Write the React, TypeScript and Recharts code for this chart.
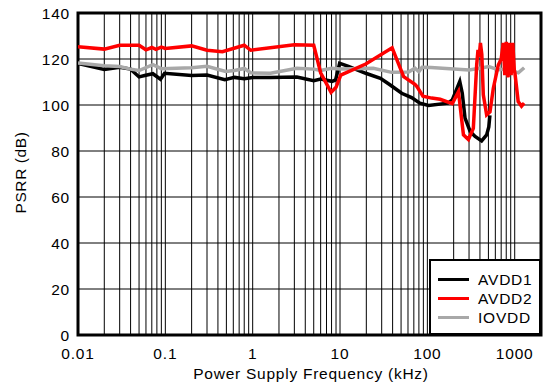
import React from "react";
import {
  LineChart,
  Line,
  XAxis,
  YAxis,
  CartesianGrid,
  ReferenceLine,
  ReferenceArea,
} from "recharts";

// AVDD1 (black)
const avdd1Freq = [0.01, 0.02, 0.03, 0.04, 0.05, 0.058, 0.072, 0.088, 0.098, 0.2, 0.3, 0.48, 0.62, 0.8, 1.0, 1.6, 3.2, 5.0, 6.0, 8.1, 8.9, 9.9, 12.5, 19.7, 29, 37.6, 50.8, 66, 82, 103, 172, 193, 235, 251, 270, 309, 352, 418, 477, 505, 520];
const avdd1Psrr = [118.1, 115.5, 116.4, 115.6, 112.2, 112.8, 113.6, 111.2, 113.8, 112.8, 113.0, 111.0, 112.0, 111.4, 112.0, 112.0, 112.2, 110.6, 111.3, 110.3, 110.9, 118.1, 116.8, 113.8, 111.6, 108.7, 105.1, 103.2, 100.8, 99.8, 100.8, 102.2, 110.2, 105.1, 94.3, 88.5, 86.3, 84.4, 87.0, 90.5, 95.5];

// AVDD2 (red)
const avdd2Freq = [0.01, 0.02, 0.03, 0.05, 0.06, 0.07, 0.078, 0.09, 0.1, 0.2, 0.3, 0.45, 0.8, 0.95, 3.0, 5.0, 6.0, 7.9, 9.0, 10.2, 19.7, 39.5, 53.5, 72, 76, 89, 112, 140, 193, 227, 259, 295, 336, 367, 380, 392, 405, 420, 437, 477, 521, 569, 649, 700, 740, 770, 800, 840, 870, 910, 950, 990, 1005, 1096, 1197, 1283];
const avdd2Psrr = [125.3, 124.3, 126.0, 126.0, 124.0, 125.0, 124.2, 125.2, 124.6, 125.7, 123.8, 123.2, 126.0, 123.8, 126.2, 126.0, 114.0, 105.5, 107.7, 113.0, 117.8, 124.9, 112.3, 109.0, 108.0, 103.8, 103.0, 102.5, 100.6, 105.8, 87.0, 85.0, 89.9, 117.4, 124.0, 121.0, 127.0, 122.0, 104.4, 95.7, 97.0, 107.3, 117.4, 120.0, 127.0, 113.0, 127.5, 112.0, 127.0, 113.0, 127.0, 115.0, 114.0, 101.5, 99.5, 100.8];

// IOVDD (gray)
const iovddFreq = [0.01, 0.02, 0.03, 0.04, 0.05, 0.072, 0.09, 0.2, 0.3, 0.49, 0.62, 0.8, 0.95, 1.6, 3.2, 5.0, 6.0, 8.0, 10, 24, 39, 61, 72, 80, 87, 110, 300, 400, 505, 650, 800, 1005, 1100, 1283];
const iovddPsrr = [118.3, 117.1, 116.7, 115.6, 115.0, 117.5, 115.8, 116.2, 116.8, 114.6, 115.0, 115.9, 114.0, 113.8, 116.0, 115.6, 115.0, 116.0, 115.7, 116.0, 114.2, 114.3, 116.0, 114.5, 116.4, 116.3, 115.2, 116.0, 116.7, 115.3, 115.6, 114.5, 114.0, 116.2];

const xTicks = [0.01, 0.1, 1, 10, 100, 1000];
const yTicks = [0, 20, 40, 60, 80, 100, 120, 140];
const decades = [0.01, 0.1, 1, 10, 100, 1000];
const multiples = [1, 2, 3, 4, 5, 6, 7, 8, 9];

const toPoints = (f: number[], v: number[]) => f.map((x, i) => ({ f: x, v: v[i] }));

const SERIES = [
  { name: "AVDD1", color: "#000000", data: toPoints(avdd1Freq, avdd1Psrr) },
  { name: "IOVDD", color: "#a8a8a8", data: toPoints(iovddFreq, iovddPsrr) },
  { name: "AVDD2", color: "#ff0000", data: toPoints(avdd2Freq, avdd2Psrr) },
];
const LEGEND_ORDER = ["AVDD1", "AVDD2", "IOVDD"];

const gridX = decades
  .flatMap(d => multiples.map(m => +(d * m).toPrecision(3)))
  .filter(x => x > 0.01 && x <= 2000);

const FONT = "'Liberation Sans', Arial, sans-serif";
const tickStyle = { fontSize: 15.5, fill: "#000", letterSpacing: 0.8 };

export default function App() {
  return (
    <div style={{ position: "absolute", left: 0, top: 0, width: 544, height: 385, background: "#fff", fontFamily: FONT }}>
      <LineChart
        width={544}
        height={385}
        margin={{ top: 13, right: 3, bottom: 20, left: 18 }}
        style={{ fontFamily: FONT }}
      >
        <CartesianGrid vertical={false} stroke="#000" strokeWidth={1} />
        {gridX.map(x => (
          <ReferenceLine key={x} x={x} stroke="#000" strokeWidth={1} />
        ))}
        <XAxis
          dataKey="f"
          type="number"
          scale="log"
          domain={[0.01, 2000]}
          ticks={xTicks}
          allowDataOverflow
          tickLine={false}
          axisLine={false}
          tickSize={0}
          tickMargin={13}
          height={30}
          tick={tickStyle}
          label={{
            content: () => (
              <text x={311} y={378.5} textAnchor="middle" fontSize={15.5} letterSpacing={0.75} fill="#000">
                Power Supply Frequency (kHz)
              </text>
            ),
          }}
        />
        <YAxis
          type="number"
          domain={[0, 140]}
          ticks={yTicks}
          tickLine={false}
          axisLine={false}
          tickSize={0}
          tickMargin={8}
          width={60}
          tick={tickStyle}
          label={{
            content: () => (
              <text x={26} y={172.5} transform="rotate(-90, 26, 172.5)" textAnchor="middle" fontSize={15.5} letterSpacing={0.6} fill="#000">
                PSRR (dB)
              </text>
            ),
          }}
        />
        {SERIES.map(s => (
          <Line
            key={s.name}
            data={s.data}
            dataKey="v"
            name={s.name}
            type="linear"
            stroke={s.color}
            strokeWidth={3.5}
            dot={false}
            activeDot={false}
            isAnimationActive={false}
          />
        ))}
        <ReferenceArea x1={0.01} x2={2000} y1={0} y2={140} fill="none" stroke="#000" strokeWidth={3} ifOverflow="visible" />
      </LineChart>

      {/* legend box */}
      <div
        style={{
          position: "absolute",
          left: 429,
          top: 259,
          width: 112,
          height: 76,
          boxSizing: "border-box",
          border: "2.5px solid #000",
          background: "#fff",
          paddingTop: 9,
        }}
      >
        {LEGEND_ORDER.map(name => {
          const s = SERIES.find(x => x.name === name)!;
          return (
            <div key={name} style={{ display: "flex", alignItems: "center", height: 19 }}>
              <span style={{ display: "inline-block", width: 31, height: 3.5, background: s.color, marginLeft: 7 }} />
              <span style={{ fontSize: 15.5, letterSpacing: 0.8, marginLeft: 9, lineHeight: "19px" }}>{name}</span>
            </div>
          );
        })}
      </div>
    </div>
  );
}
